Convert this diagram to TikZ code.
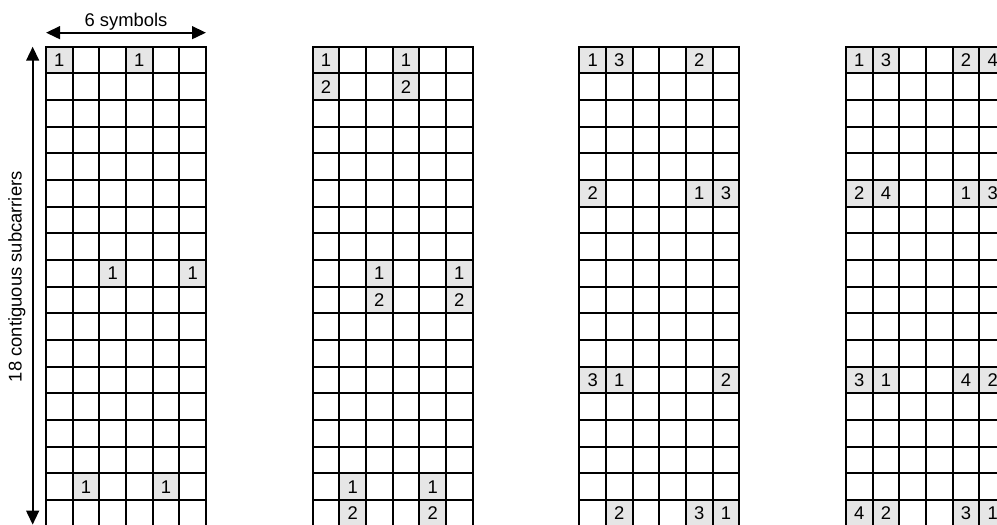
\documentclass[tikz,border=0pt]{standalone}
\usepackage{fontspec}
\setmainfont{Liberation Sans}
\usetikzlibrary{arrows.meta}
\definecolor{cellgray}{RGB}{230,230,230}
\begin{document}
\begin{tikzpicture}[x=1pt,y=-1pt,
  gridline/.style={line width=1.7pt, line cap=rect},
  shaded/.style={fill=cellgray, draw=none, minimum width=20pt, minimum height=20pt, inner sep=0pt, font=\fontsize{13.8}{16}\selectfont, anchor=center},
  dimarrow/.style={line width=1.7pt, {Triangle[length=10.5pt,width=9.5pt]}-{Triangle[length=10.5pt,width=9.5pt]}},
  lbl/.style={font=\fontsize{13.8}{16}\selectfont, inner sep=0pt}]
\useasboundingbox (0,0) rectangle (747.75,393.75);
% shaded cells with numbers
\foreach \g/\c/\r/\t in {
  1/0/0/1, 1/3/0/1, 1/2/8/1, 1/5/8/1, 1/1/16/1, 1/4/16/1,
  2/0/0/1, 2/3/0/1, 2/0/1/2, 2/3/1/2, 2/2/8/1, 2/5/8/1, 2/2/9/2, 2/5/9/2, 2/1/16/1, 2/4/16/1, 2/1/17/2, 2/4/17/2,
  3/0/0/1, 3/1/0/3, 3/4/0/2, 3/0/5/2, 3/4/5/1, 3/5/5/3, 3/0/12/3, 3/1/12/1, 3/5/12/2, 3/1/17/2, 3/4/17/3, 3/5/17/1,
  4/0/0/1, 4/1/0/3, 4/4/0/2, 4/5/0/4, 4/0/5/2, 4/1/5/4, 4/4/5/1, 4/5/5/3, 4/0/12/3, 4/1/12/1, 4/4/12/4, 4/5/12/2, 4/0/17/4, 4/1/17/2, 4/4/17/3, 4/5/17/1}
  \node[shaded] (g\g c\c r\r) at ({34.5+200*(\g-1)+20*\c+10},{45+20*\r}) {\t};
% grid lines
\foreach \g in {0,...,3} {
  \foreach \i in {0,...,6}
    \draw[gridline] ({34.5+200*\g+20*\i},35) -- ++(0,360);
  \foreach \j in {0,...,18}
    \draw[gridline] ({34.5+200*\g},{35+20*\j}) -- ++(120,0);
}
% dimension arrows
\coordinate (hl) at (34.5,24.5);
\coordinate (hr) at (154.5,24.5);
\coordinate (vt) at (24.5,35);
\coordinate (vb) at (24.5,393.5);
\draw[dimarrow] (hl) -- (hr);
\draw[dimarrow] (vt) -- (vb);
\node[lbl, anchor=base] (symlbl) at (94.5,19.5) {6 symbols};
\node[lbl, anchor=base, rotate=90] (sublbl) at (16.3,207.5) {18 contiguous subcarriers};
\end{tikzpicture}
\end{document}
